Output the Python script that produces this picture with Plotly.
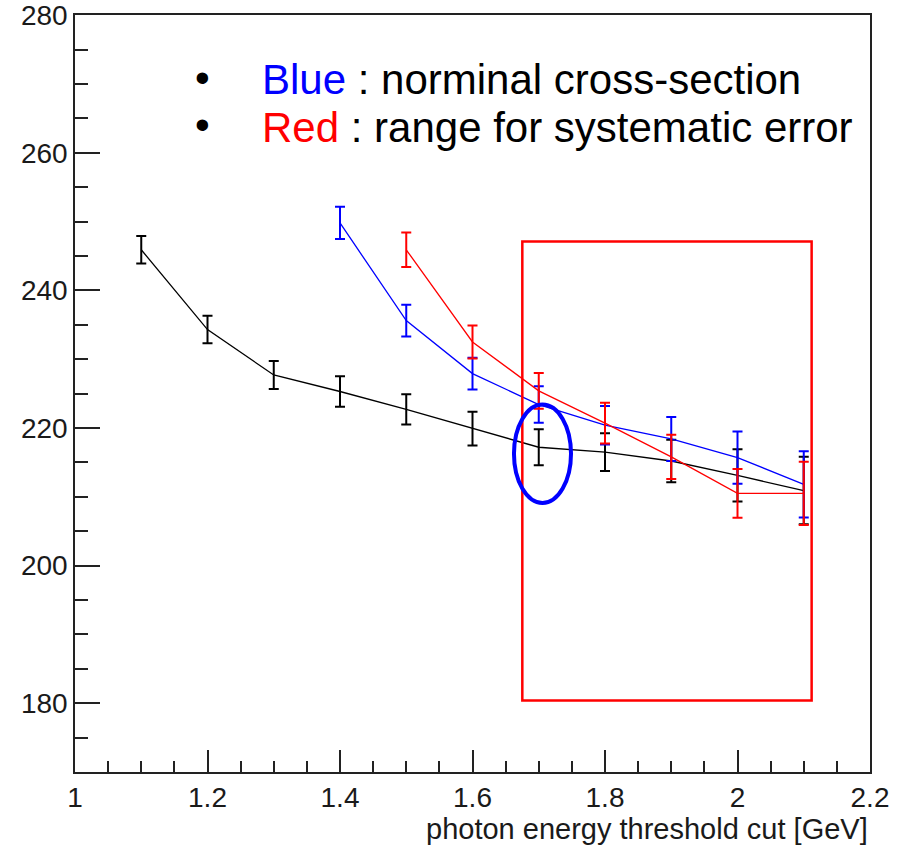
import plotly.graph_objects as go

# Photon energy threshold cut [GeV]
x_black = [1.1, 1.2, 1.3, 1.4, 1.5, 1.6, 1.7, 1.8, 1.9, 2.0, 2.1]
y_black = [245.9, 234.3, 227.7, 225.3, 222.7, 219.9, 217.2, 216.5, 215.2, 213.1, 210.9]
e_black = [2.0, 2.0, 2.05, 2.2, 2.2, 2.45, 2.6, 2.75, 3.1, 3.8, 4.9]

x_blue = [1.4, 1.5, 1.6, 1.7, 1.8, 1.9, 2.0, 2.1]
y_blue = [249.8, 235.6, 227.9, 223.4, 220.4, 218.4, 215.7, 211.8]
e_blue = [2.35, 2.3, 2.3, 2.65, 2.8, 3.2, 3.8, 4.8]

x_red = [1.5, 1.6, 1.7, 1.8, 1.9, 2.0, 2.1]
y_red = [245.9, 232.5, 225.4, 220.7, 215.8, 210.5, 210.5]
e_red = [2.5, 2.4, 2.6, 2.95, 3.2, 3.55, 4.6]

y_ticks = [180, 200, 220, 240, 260, 280]

# Highlight regions
sys_box = dict(x0=1.6752, x1=2.1119, y0=180.4, y1=247.1)
nominal_ring = dict(x0=1.6626, x1=1.7487, y0=209.1, y1=223.4)

FONT = "Liberation Sans, Arial, sans-serif"

fig = go.Figure()


def add_series(xs, ys, es, color):
    fig.add_trace(go.Scatter(
        x=xs, y=ys, mode="lines",
        line=dict(color=color, width=1.3),
        error_y=dict(type="data", array=es, visible=True,
                     color=color, thickness=2, width=5),
        showlegend=False,
    ))


add_series(x_black, y_black, e_black, "black")
add_series(x_blue, y_blue, e_blue, "#0000ff")
add_series(x_red, y_red, e_red, "#ff0000")

fig.add_shape(type="rect", xref="x", yref="y", **sys_box,
              line=dict(color="#ff0000", width=2.5))
fig.add_shape(type="circle", xref="x", yref="y", **nominal_ring,
              line=dict(color="#0000ff", width=4))

# Bulleted notes
for yb in (271.0, 264.1):
    fig.add_annotation(x=1.1917, y=yb, xref="x", yref="y", text="•",
                       showarrow=False, xanchor="center", yanchor="middle",
                       font=dict(family=FONT, size=42, color="black"))

fig.add_annotation(x=1.2797, y=270.6, xref="x", yref="y",
                   text="<span style='color:#0000ff'>Blue</span> : norminal cross-section",
                   showarrow=False, xanchor="left", yanchor="middle",
                   font=dict(family=FONT, size=42, color="black"))
fig.add_annotation(x=1.2797, y=263.7, xref="x", yref="y",
                   text="<span style='color:#ff0000'>Red</span> : range for systematic error",
                   showarrow=False, xanchor="left", yanchor="middle",
                   font=dict(family=FONT, size=42, color="black"))

# Axis title, right-aligned under the axis
fig.add_annotation(x=1.0, y=-0.075, xref="paper", yref="paper",
                   text="photon energy threshold cut [GeV]",
                   showarrow=False, xanchor="right", yanchor="middle",
                   font=dict(family=FONT, size=29, color="#1a1a1a"))

axis_common = dict(
    showline=True, linecolor="#222222", linewidth=1.6, mirror=True,
    ticks="inside", tickcolor="#222222", tickwidth=1.6,
    showgrid=False, zeroline=False, ticklabeloverflow="allow",
    automargin=False,
    tickfont=dict(family=FONT, size=28, color="#1a1a1a"),
)

fig.update_xaxes(range=[1.0, 2.2], tick0=1.0, dtick=0.2, ticklen=22,
                 minor=dict(dtick=0.05, ticks="inside", ticklen=11,
                            tickcolor="#222222", tickwidth=1.6, showgrid=False),
                 **axis_common)
fig.update_yaxes(range=[170, 280.02], tickmode="array", tickvals=y_ticks,
                 ticktext=[str(v) for v in y_ticks], ticklen=25,
                 minor=dict(tick0=170, dtick=5, ticks="inside", ticklen=13,
                            tickcolor="#222222", tickwidth=1.6, showgrid=False),
                 **axis_common)

fig.update_layout(
    width=901, height=845,
    margin=dict(l=75, r=31, t=15, b=73),
    plot_bgcolor="white", paper_bgcolor="white",
)

fig.write_html("out.html")
